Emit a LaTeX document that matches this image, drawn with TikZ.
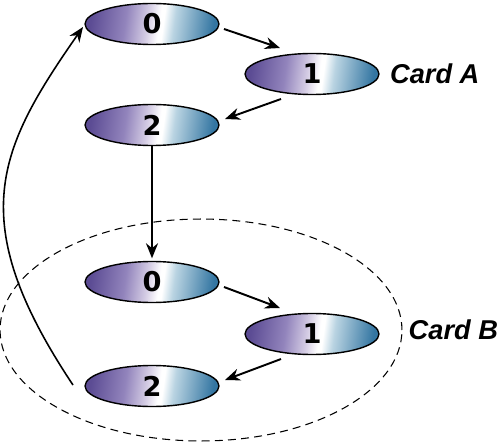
\documentclass[tikz,border=0pt]{standalone}
\usepackage{fontspec}
\setmainfont{Liberation Sans}
\newfontfamily\digitfont{DejaVu Sans}
\usepackage{tikz}
\usetikzlibrary{arrows.meta,positioning,shapes.geometric}

\definecolor{cpurple}{RGB}{92,76,148}
\definecolor{cmauve}{RGB}{146,132,188}
\definecolor{clav}{RGB}{212,204,228}
\definecolor{clblue}{RGB}{186,212,226}
\definecolor{cblue}{RGB}{52,118,162}

\pgfdeclarehorizontalshading{cardfill}{100bp}{%
  color(0bp)=(cpurple); color(25bp)=(cpurple); color(39bp)=(cmauve);
  color(48bp)=(clav); color(53bp)=(white); color(54.5bp)=(white);
  color(59bp)=(clblue); color(75bp)=(cblue); color(100bp)=(cblue)}

\begin{document}
\begin{tikzpicture}[
  x=0.02cm,y=-0.02cm,
  cardnode/.style={ellipse,draw=black,line width=0.8pt,shading=cardfill,shading angle=-8,
                   minimum width=2.68cm,minimum height=0.82cm,inner sep=0pt,
                   font=\digitfont\fontsize{15.5}{15.5}\selectfont\bfseries},
  cardlbl/.style={font=\fontsize{15.5}{15.5}\selectfont\bfseries\itshape},
  cardframe/.style={ellipse,draw=black,line width=0.6pt,dash pattern=on 4.5pt off 3pt,
                    minimum width=8.04cm,minimum height=4.44cm,inner sep=0pt},
  flow/.style={-{Stealth[length=3mm,width=2.4mm]},draw=black,line width=1.1pt}]

\useasboundingbox (0,0) rectangle (500,442);

% card B frame
\node[cardframe] (frameb) at (201,330) {};
\node[cardlbl,right=0pt of frameb] (lblb) {Card B};

% card A
\node[cardnode] (a0) at (152,24) {0};
\node[cardnode] (a1) at (312,74) {1};
\node[cardnode] (a2) at (152,125) {2};
\node[cardlbl,right=2.4pt of a1] (lbla) {Card A};

% card B
\node[cardnode] (b0) at (152,282) {0};
\node[cardnode] (b1) at (312,334) {1};
\node[cardnode] (b2) at (152,386) {2};

\draw[flow] ([shift={(72,5)}]a0.center) -- ([shift={(-32,-26)}]a1.center);
\draw[flow] ([shift={(-31,25)}]a1.center) -- ([shift={(73,-6)}]a2.center);
\draw[flow,shorten >=0.5mm] (a2.south) -- (b0.north);
\draw[flow] ([shift={(72,5)}]b0.center) -- ([shift={(-32,-26)}]b1.center);
\draw[flow] ([shift={(-31,25)}]b1.center) -- ([shift={(73,-6)}]b2.center);
\draw[flow,line width=0.9pt] ([shift={(-79,-1)}]b2.center)
  .. controls +(-110,-165) and +(-85,122) .. ([shift={(-69,3)}]a0.center);

\end{tikzpicture}
\end{document}
